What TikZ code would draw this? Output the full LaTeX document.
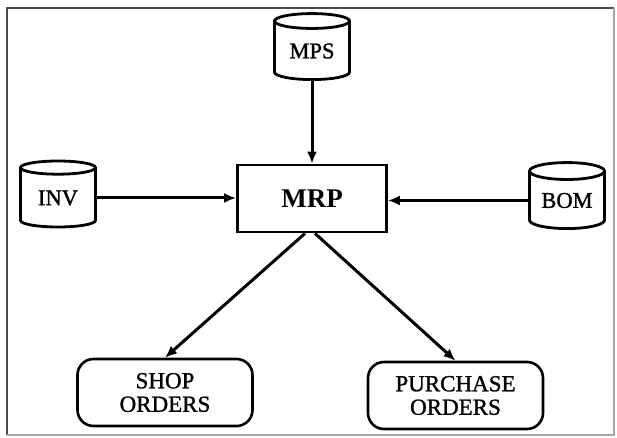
\documentclass[tikz,border=0pt]{standalone}
\usepackage{fontspec}
\setmainfont{Liberation Serif}
\newfontfamily\scanfont[FakeBold=1.2]{Liberation Serif}
\usetikzlibrary{shapes.geometric,arrows.meta}
\begin{document}
\begin{tikzpicture}[x=1pt,y=1pt,
  db/.style={cylinder,shape border rotate=90,draw,line width=2.8pt,aspect=0.33,
     minimum width=75pt,minimum height=66pt,inner sep=0pt,font=\scanfont\fontsize{22.5}{22}\selectfont},
  proc/.style={rectangle,draw,line width=2.8pt,minimum width=149pt,minimum height=67pt,
     font=\bfseries\fontsize{27}{27}\selectfont},
  orderbox/.style={rectangle,rounded corners=16pt,draw,line width=2.6pt,minimum width=175pt,
     minimum height=67pt,align=center,inner sep=0pt,font=\scanfont\fontsize{23}{23.5}\selectfont},
  flow/.style={line width=3pt,-{Latex[length=12pt,width=10pt]}}]
\useasboundingbox (0,0) rectangle (617,437);
\fill[white] (0,0) rectangle (617,437);
\draw[black!70,line width=2.5pt] (7,2) -- (7,429) -- (614,429);
\draw[black!35,line width=2pt] (614,429) -- (614,2) -- (7,2);
\node[db] (mps) at (312,386) {MPS};
\node[proc] (mrp) at (312,238.5) {MRP};
\node[db] (inv) at (58,239) {INV};
\node[db] (bom) at (567,236.5) {BOM};
\node[orderbox] (shop) at (165,44.5) {SHOP\\ORDERS};
\node[orderbox] (purch) at (455.5,41.5) {PURCHASE\\ORDERS};
\draw[flow] (mps.bottom) -- (mrp.north);
\draw[flow] (inv.east) -- (mrp.west |- inv.east);
\draw[flow] (bom.west) -- (mrp.east |- bom.west);
\coordinate (a1) at ([xshift=-7pt]mrp.south);
\coordinate (a2) at ([xshift=3pt]mrp.south);
\draw[flow] (a1) -- (shop.north);
\draw[flow] (a2) -- (purch.north);
\end{tikzpicture}
\end{document}
